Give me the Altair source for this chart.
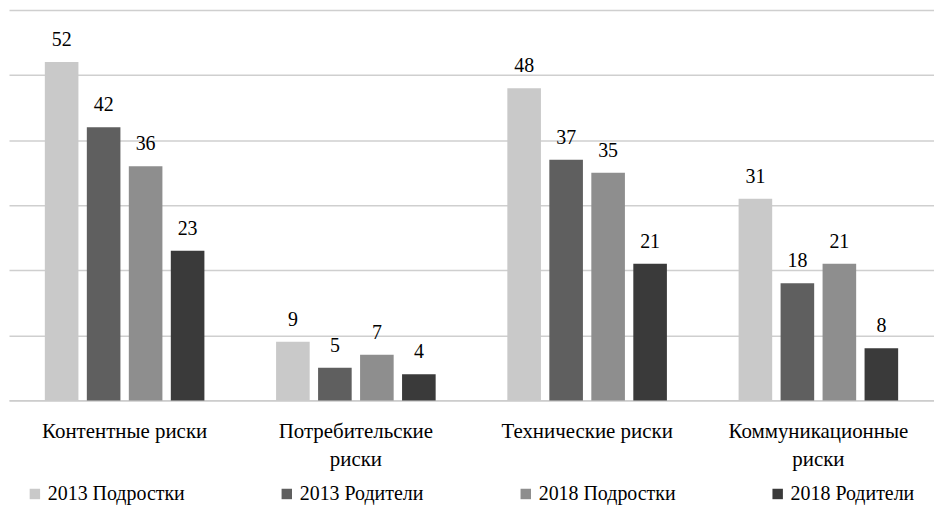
import altair as alt
import pandas as pd

categories = ["Контентные риски", "Потребительские\nриски", "Технические риски", "Коммуникационные\nриски"]
series = ["2013 Подростки", "2013 Родители", "2018 Подростки", "2018 Родители"]
values = {
    "2013 Подростки": [52, 9, 48, 31],
    "2013 Родители": [42, 5, 37, 18],
    "2018 Подростки": [36, 7, 35, 21],
    "2018 Родители": [23, 4, 21, 8],
}
colors = ["#c9c9c9", "#5f5f5f", "#8e8e8e", "#3a3a3a"]

rows = []
for s in series:
    for c, v in zip(categories, values[s]):
        rows.append({"cat": c, "series": s, "value": v})
df = pd.DataFrame(rows)

FONT = "Times New Roman, Liberation Serif, serif"

base = alt.Chart(df).encode(
    x=alt.X("cat:N", sort=categories, title=None,
            scale=alt.Scale(paddingInner=0.31, paddingOuter=0.155),
            axis=alt.Axis(labelExpr="split(datum.label, '\\n')", labelAngle=0,
                          labelFont=FONT, labelFontSize=21, labelColor="#000",
                          labelLineHeight=28, labelPadding=20, ticks=False, labelLimit=400,
                          domainColor="#c8c8c8", domainWidth=1.5)),
    xOffset=alt.XOffset("series:N", sort=series,
                        scale=alt.Scale(paddingInner=0.2, paddingOuter=0)),
    y=alt.Y("value:Q", title=None,
            scale=alt.Scale(domain=[0, 60], nice=False),
            axis=alt.Axis(values=[0, 10, 20, 30, 40, 50, 60], labels=False, ticks=False,
                          domain=False, grid=True, gridColor="#cfcfcf", gridWidth=1.5)),
)

bars = base.mark_bar().encode(
    color=alt.Color("series:N", sort=series,
                    scale=alt.Scale(domain=series, range=colors),
                    legend=alt.Legend(title=None, orient="none", direction="horizontal",
                                      legendX=16, legendY=476,
                                      symbolType="square", symbolSize=110, symbolStrokeWidth=0,
                                      labelFont=FONT, labelFontSize=20, labelColor="#000",
                                      columnPadding=92, labelOffset=3, labelLimit=300))
)

labels = base.mark_text(baseline="bottom", dy=-12, font=FONT, fontSize=20, color="#000").encode(
    text=alt.Text("value:Q")
)

chart = alt.layer(bars, labels).properties(
    width=929, height=392,
    padding={"left": 1, "top": 1, "right": 0, "bottom": 0},
    background="white",
).configure(font=FONT).configure_view(stroke=None)

chart.save("out.html", embed_options={"renderer": "svg", "actions": False})
